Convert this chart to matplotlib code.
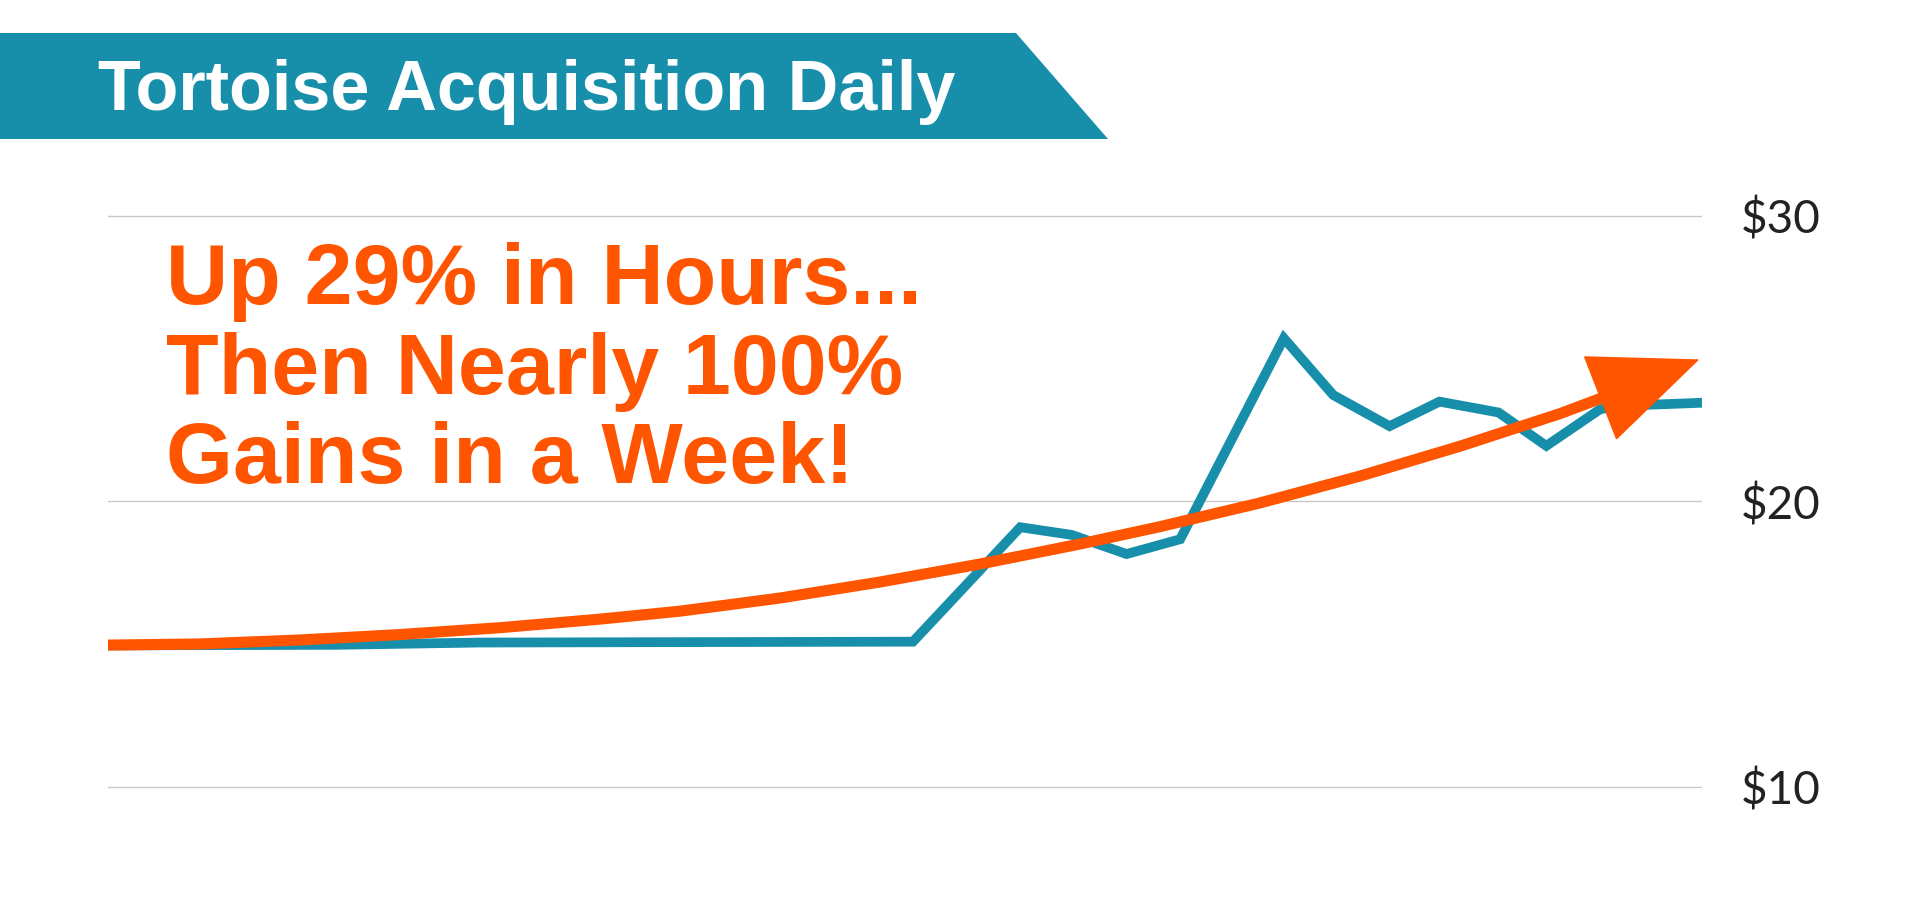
import matplotlib
matplotlib.use("Agg")
import matplotlib.pyplot as plt
from matplotlib.patches import Polygon

# ---- data ----
price_x = [0, 4.3, 7.0, 15.15, 17.17, 18.14, 19.17, 20.18, 22.13, 23.06, 24.12, 25.06, 26.17, 27.07, 28.08, 28.42, 30.0]
price_y = [14.95, 14.97, 15.05, 15.08, 19.09, 18.82, 18.15, 18.67, 25.71, 23.72, 22.63, 23.49, 23.11, 21.94, 23.22, 23.34, 23.45]

trend_x = [0, 1.73, 3.61, 5.50, 7.38, 9.26, 10.77, 12.65, 14.53, 16.41, 18.29, 19.80, 21.68, 23.56, 25.45, 27.33, 28.36, 29.95]
trend_y = [14.96, 15.00, 15.14, 15.33, 15.57, 15.87, 16.15, 16.61, 17.17, 17.80, 18.50, 19.11, 19.94, 20.88, 21.93, 23.07, 23.79, 24.97]

y_ticks = [10, 20, 30]
y_tick_labels = ["$10", "$20", "$30"]

title = "Tortoise Acquisition Daily"
headline = ["Up 29% in Hours...", "Then Nearly 100%", "Gains in a Week!"]

TEAL = "#178FAB"
ORANGE = "#FF5500"

W, H = 1920, 906
fig = plt.figure(figsize=(W / 100, H / 100), dpi=100)
fig.patch.set_facecolor("white")

# axes spanning the plot region
ax = fig.add_axes([108 / W, 0, (1702 - 108) / W, 1])
ax.set_xlim(0, 30)
ax.set_ylim(5.82, 37.56)
for s in ax.spines.values():
    s.set_visible(False)
ax.set_xticks([])
ax.set_yticks(y_ticks)
ax.set_yticklabels(y_tick_labels)
ax.yaxis.tick_right()
ax.tick_params(axis="y", length=0, pad=28, labelsize=33, labelcolor="#222222")
for lab in ax.get_yticklabels():
    lab.set_fontfamily(["Lato", "DejaVu Sans"])
    lab.set_fontweight("normal")
    lab.set_color("#222222")
ax.grid(axis="y", color="#c8c8c8", linewidth=1.0)
ax.set_axisbelow(True)
ax.patch.set_alpha(0)

ax.plot(price_x, price_y, color=TEAL, linewidth=7.0, solid_capstyle="round",
        solid_joinstyle="miter", zorder=3)
ax.plot(trend_x[:-1], trend_y[:-1], color=ORANGE, linewidth=8.0, solid_capstyle="round",
        solid_joinstyle="round", zorder=4)
ax.annotate("", xy=(trend_x[-1], trend_y[-1]), xytext=(trend_x[-3], trend_y[-3]),
            arrowprops=dict(arrowstyle="-|>,head_length=3.75,head_width=1.58",
                            mutation_scale=20, color=ORANGE, linewidth=1,
                            joinstyle="miter", shrinkA=0, shrinkB=0),
            zorder=5)

# banner
banner = Polygon([(0, 1 - 33 / H), (1016 / W, 1 - 33 / H), (1108 / W, 1 - 139 / H), (0, 1 - 139 / H)],
                 closed=True, transform=fig.transFigure, facecolor=TEAL, edgecolor="none")
fig.patches.append(banner)
fig.text(98 / W, 1 - 110 / H, title, color="white", fontsize=50.5, fontweight="bold",
         family=["Liberation Sans", "DejaVu Sans"], va="baseline", ha="left")

baselines = [304, 394, 483]
for line, b in zip(headline, baselines):
    fig.text(166 / W, 1 - b / H, line, color=ORANGE, fontsize=62, fontweight="bold",
             family=["Liberation Sans", "DejaVu Sans"], va="baseline", ha="left")

fig.savefig("out.png", dpi=100)
